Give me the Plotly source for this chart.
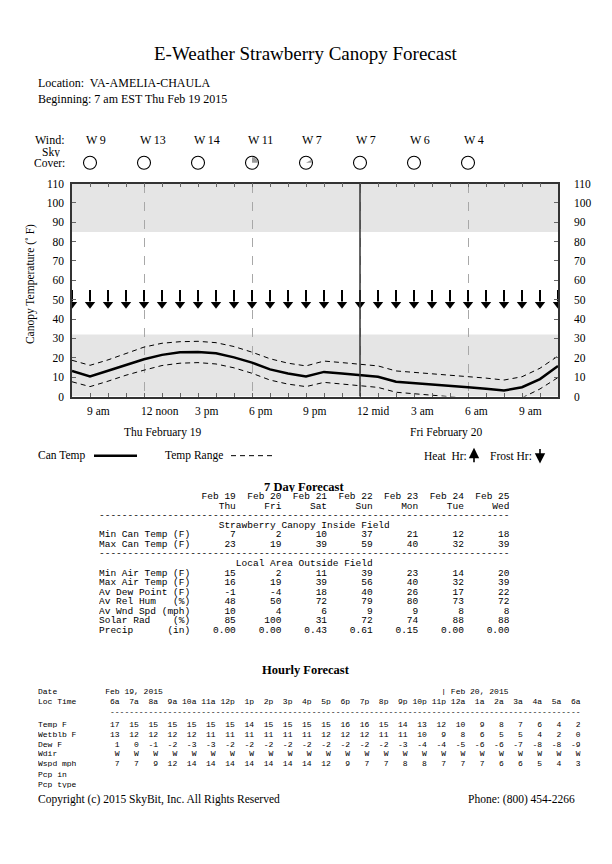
import math
import plotly.graph_objects as go

W, H = 612, 864
SERIF = "Liberation Serif, Times New Roman, serif"
MONO = "Liberation Mono, Courier New, monospace"

# ---------------- data ----------------
hours = [
    "2015-02-19 08:00", "2015-02-19 09:00", "2015-02-19 10:00", "2015-02-19 11:00",
    "2015-02-19 12:00", "2015-02-19 13:00", "2015-02-19 14:00", "2015-02-19 15:00",
    "2015-02-19 16:00", "2015-02-19 17:00", "2015-02-19 18:00", "2015-02-19 19:00",
    "2015-02-19 20:00", "2015-02-19 21:00", "2015-02-19 22:00", "2015-02-19 23:00",
    "2015-02-20 00:00", "2015-02-20 01:00", "2015-02-20 02:00", "2015-02-20 03:00",
    "2015-02-20 04:00", "2015-02-20 05:00", "2015-02-20 06:00", "2015-02-20 07:00",
    "2015-02-20 08:00", "2015-02-20 09:00", "2015-02-20 10:00", "2015-02-20 11:00",
]
can_temp = [13.2, 10.4, 13.3, 16.3, 19.2, 21.5, 22.8, 23.0, 22.3, 20.2, 17.5, 14.0,
            11.9, 10.4, 12.7, 11.9, 11.0, 10.2, 7.6, 7.0, 6.2, 5.5, 4.8, 4.0,
            3.1, 4.8, 9.0, 15.8]
range_hi = [18.7, 16.1, 18.9, 22.2, 25.5, 27.5, 28.3, 28.5, 27.8, 25.8, 22.9, 19.5,
            17.2, 15.8, 18.3, 17.5, 16.6, 15.8, 13.2, 12.5, 11.8, 11.1, 10.4, 9.5,
            8.5, 10.2, 14.6, 20.9]
range_lo = [7.6, 5.1, 7.9, 11.0, 13.6, 16.0, 17.2, 17.5, 16.8, 14.8, 12.0, 8.5,
            6.4, 5.1, 7.3, 6.5, 5.6, 4.7, 2.2, 1.5, 0.6, -0.1, -0.7, -1.5,
            -2.4, -0.7, 3.9, 9.8]
frost_hour = [1, 1, 1, 1, 1, 1, 1, 1, 1, 1, 1, 1, 1, 1,
              1, 1, 1, 1, 1, 1, 1, 1, 1, 1, 1, 1, 1, 1]

frost_band = [0, 32]
heat_band = [85, 110]

tick_times = ["2015-02-19 09:00", "2015-02-19 12:00", "2015-02-19 15:00",
              "2015-02-19 18:00", "2015-02-19 21:00", "2015-02-20 00:00",
              "2015-02-20 03:00", "2015-02-20 06:00", "2015-02-20 09:00"]
tick_labels = ["9 am", "12 noon", "3 pm", "6 pm", "9 pm", "12 mid", "3 am", "6 am", "9 am"]

wind_times = ["2015-02-19 09:00", "2015-02-19 12:00", "2015-02-19 15:00",
              "2015-02-19 18:00", "2015-02-19 21:00", "2015-02-20 00:00",
              "2015-02-20 03:00", "2015-02-20 06:00"]
wind_dir = ["W", "W", "W", "W", "W", "W", "W", "W"]
wind_speed = [9, 13, 14, 11, 7, 7, 6, 4]
sky_cover = [0, 0, 0, 25, 8, 0, 0, 0]

# 7 day forecast
days = ["Feb 19", "Feb 20", "Feb 21", "Feb 22", "Feb 23", "Feb 24", "Feb 25"]
weekdays = ["Thu", "Fri", "Sat", "Sun", "Mon", "Tue", "Wed"]
min_can = [7, 2, 10, 37, 21, 12, 18]
max_can = [23, 19, 39, 59, 40, 32, 39]
min_air = [15, 2, 11, 39, 23, 14, 20]
max_air = [16, 19, 39, 56, 40, 32, 39]
dew_pt = [-1, -4, 18, 40, 26, 17, 22]
rel_hum = [48, 50, 72, 79, 80, 73, 72]
wnd_spd = [10, 4, 6, 9, 9, 8, 8]
solar = [85, 100, 31, 72, 74, 88, 88]
precip = [0.00, 0.00, 0.43, 0.61, 0.15, 0.00, 0.00]

# hourly forecast
loc_time = ["6a", "7a", "8a", "9a", "10a", "11a", "12p", "1p", "2p", "3p", "4p", "5p",
            "6p", "7p", "8p", "9p", "10p", "11p", "12a", "1a", "2a", "3a", "4a", "5a", "6a"]
h_temp = [17, 15, 15, 15, 15, 15, 15, 14, 15, 15, 15, 15, 16, 16, 15, 14, 13, 12, 10, 9, 8, 7, 6, 4, 2]
h_wetblb = [13, 12, 12, 12, 12, 11, 11, 11, 11, 11, 11, 12, 12, 12, 11, 11, 10, 9, 8, 6, 5, 5, 4, 2, 0]
h_dew = [1, 0, -1, -2, -3, -3, -2, -2, -2, -2, -2, -2, -2, -2, -2, -3, -4, -4, -5, -6, -6, -7, -8, -8, -9]
h_wdir = ["W"] * 25
h_wspd = [7, 7, 9, 12, 14, 14, 14, 14, 14, 14, 14, 12, 9, 7, 7, 8, 8, 7, 7, 7, 6, 6, 5, 4, 3]

# ---------------- figure ----------------
def px_x(x):
    return x / W

def px_y(y):
    return 1 - y / H

fig = go.Figure()

dash_style = "5px,4px"
fig.add_trace(go.Scatter(x=hours, y=range_hi, mode="lines",
                         line=dict(color="black", width=1, dash=dash_style), hoverinfo="skip"))
fig.add_trace(go.Scatter(x=hours, y=range_lo, mode="lines",
                         line=dict(color="black", width=1, dash=dash_style), hoverinfo="skip"))
fig.add_trace(go.Scatter(x=hours, y=can_temp, mode="lines",
                         line=dict(color="black", width=2.5), hoverinfo="skip"))

# frost hour arrows
ARROW_TOP, ARROW_NECK, ARROW_HEAD = 55, 49, 47.6
sx, sy, hx, hy = [], [], [], []
for t, f in zip(hours, frost_hour):
    if f:
        sx += [t, t, None]
        sy += [ARROW_TOP, ARROW_NECK, None]
        hx.append(t)
        hy.append(ARROW_HEAD)
fig.add_trace(go.Scatter(x=sx, y=sy, mode="lines", line=dict(color="black", width=2),
                         hoverinfo="skip"))
fig.add_trace(go.Scatter(x=hx, y=hy, mode="markers",
                         marker=dict(symbol="triangle-down", size=9, color="black",
                                     line=dict(width=0)), hoverinfo="skip"))

# invisible trace for right axis
fig.add_trace(go.Scatter(x=hours, y=can_temp, yaxis="y2", mode="lines",
                         line=dict(width=0), opacity=0, hoverinfo="skip"))

# sky cover circles
fig.add_trace(go.Scatter(x=wind_times, y=[0.5] * len(wind_times), xaxis="x2", yaxis="y3",
                         mode="markers",
                         marker=dict(symbol="circle-open", size=13, color="black",
                                     line=dict(width=1.1)), hoverinfo="skip"))
R = 5.6
for t, c in zip(wind_times, sky_cover):
    if c > 0:
        n = 16
        parts = ["M 0 0"]
        for i in range(n + 1):
            a = 2 * math.pi * c / 100 * i / n
            parts.append(f"L {R * math.cos(a):.2f} {R * math.sin(a):.2f}")
        fig.add_shape(type="path", xref="x2", yref="y3", xsizemode="pixel", ysizemode="pixel",
                      xanchor=t, yanchor=0.5, path=" ".join(parts) + " Z",
                      fillcolor="#9a9a9a", line=dict(width=0), layer="below")

# background bands
for lo, hi in (frost_band, heat_band):
    fig.add_shape(type="rect", xref="x domain", yref="y", x0=0, x1=1, y0=lo, y1=hi,
                  fillcolor="#e5e5e5", line=dict(width=0), layer="below")

# midnight line
fig.add_shape(type="line", xref="x", yref="y domain", x0="2015-02-20 00:00", x1="2015-02-20 00:00",
              y0=0, y1=1, line=dict(color="#333333", width=1.5), layer="above")

XD = [72 / W, 558 / W]
YD = [1 - 396 / H, 1 - 180 / H]
tickfont = dict(family=SERIF, size=11.5, color="black")
fig.update_layout(
    width=W, height=H, margin=dict(l=0, r=0, t=0, b=0), autosize=False,
    paper_bgcolor="white", plot_bgcolor="white", showlegend=False,
    xaxis=dict(type="date", domain=XD, anchor="y", range=[hours[0], hours[-1]],
               showline=True, linecolor="#333333", linewidth=1.5, mirror="ticks",
               ticks="inside", ticklen=4, tickcolor="#666666", tickwidth=1,
               tick0="2015-02-19 00:00", dtick=6 * 3600000,
               showgrid=True, gridcolor="#a8a8a8", griddash="dash", gridwidth=1.3,
               showticklabels=False, zeroline=False,
               minor=dict(dtick=3600000, ticks="inside", ticklen=4, tickcolor="#666666",
                          showgrid=False)),
    yaxis=dict(domain=YD, anchor="x", range=[0, 110], dtick=10, tick0=0,
               showline=True, linecolor="#333333", linewidth=1.5,
               ticks="inside", ticklen=4, tickcolor="#666666",
               showgrid=False, zeroline=False, tickfont=tickfont, ticklabelstandoff=4),
    yaxis2=dict(overlaying="y", side="right", anchor="x", range=[0, 110], dtick=10, tick0=0,
                showline=True, linecolor="#333333", linewidth=1.5,
                ticks="inside", ticklen=4, tickcolor="#666666",
                showgrid=False, zeroline=False, tickfont=tickfont, ticklabelstandoff=12),
    xaxis2=dict(type="date", domain=XD, anchor="y3", range=[hours[0], hours[-1]],
                visible=False, showgrid=False),
    yaxis3=dict(domain=[1 - 175 / H, 1 - 143 / H], anchor="x2", range=[0, 1],
                visible=False, showgrid=False),
)


def txt(s, x, y, size=12, family=SERIF, xanchor="left", **kw):
    fig.add_annotation(text=s, x=px_x(x), y=px_y(y), xref="paper", yref="paper",
                       xanchor=xanchor, yanchor="middle", showarrow=False,
                       font=dict(family=family, size=size, color="black"), **kw)


def mono(s):
    return s.replace(" ", "\u00a0")


# header
txt("E-Weather Strawberry Canopy Forecast", 306, 48, size=19, xanchor="center")
txt("Location:\u00a0 VA-AMELIA-CHAULA", 36, 78, size=12)
txt("Beginning: 7 am EST Thu Feb 19 2015", 36, 94, size=12)

# wind / sky rows
txt("Wind:", 67, 136, size=12, xanchor="right")
txt("Sky", 62, 148, size=11.5, xanchor="right", height=10)
txt("Cover:", 67, 159, size=11.5, xanchor="right", height=10)
for t, d, s in zip(wind_times, wind_dir, wind_speed):
    fig.add_annotation(text=f"{d}\u2009{s}", x=t, y=px_y(136), xref="x", yref="paper",
                       xanchor="left", yanchor="middle", xshift=-6, showarrow=False,
                       font=dict(family=SERIF, size=12, color="black"))

# y-axis title
fig.add_annotation(text="Canopy Temperature (\u02da F)", x=px_x(30), y=px_y(282),
                   xref="paper", yref="paper", textangle=-90, showarrow=False,
                   xanchor="center", yanchor="middle",
                   font=dict(family=SERIF, size=11.5, color="black"))

# time labels
for t, lab in zip(tick_times, tick_labels):
    fig.add_annotation(text=lab, x=t, y=px_y(411), xref="x", yref="paper",
                       xanchor="left", yanchor="middle", xshift=-5, showarrow=False,
                       font=dict(family=SERIF, size=11.5, color="black"))
txt("Thu February 19", 163, 432, size=11.5, xanchor="center")
txt("Fri February 20", 446, 432, size=11.5, xanchor="center")

# legend
txt("Can Temp", 36, 456, size=11.5)
fig.add_shape(type="line", xref="paper", yref="paper", x0=px_x(94), x1=px_x(137),
              y0=px_y(456), y1=px_y(456), line=dict(color="black", width=2.5))
txt("Temp Range", 163, 456, size=11.5)
fig.add_shape(type="line", xref="paper", yref="paper", x0=px_x(231), x1=px_x(273),
              y0=px_y(456), y1=px_y(456), line=dict(color="black", width=1, dash=dash_style))
txt("Heat\u00a0 Hr:", 422, 456, size=11.5)
fig.add_annotation(text="", x=px_x(474), y=px_y(448), xref="paper", yref="paper",
                   ax=0, ay=16, showarrow=True, arrowhead=2, arrowsize=1.3, arrowwidth=1.6,
                   arrowcolor="black")
txt("Frost Hr:", 488, 456, size=11.5)
fig.add_annotation(text="", x=px_x(540), y=px_y(464), xref="paper", yref="paper",
                   ax=0, ay=-16, showarrow=True, arrowhead=2, arrowsize=1.3, arrowwidth=1.6,
                   arrowcolor="black")

# ---- 7 day forecast table ----
txt("<b>7 Day Forecast</b>", 304, 487, size=12.5, xanchor="center", height=11)
lines7 = []
lines7.append(" " * 16 + "".join(f"{d:>8}" for d in days))
lines7.append(" " * 16 + "".join(f"{d:>8}" for d in weekdays))
lines7.append("-" * 72)
lines7.append("Strawberry Canopy Inside Field".center(72).rstrip())
lines7.append("Min Can Temp (F)" + "".join(f"{v:>8}" for v in min_can))
lines7.append("Max Can Temp (F)" + "".join(f"{v:>8}" for v in max_can))
lines7.append("-" * 72)
lines7.append("Local Area Outside Field".center(72).rstrip())
lines7.append("Min Air Temp (F)" + "".join(f"{v:>8}" for v in min_air))
lines7.append("Max Air Temp (F)" + "".join(f"{v:>8}" for v in max_air))
lines7.append("Av Dew Point (F)" + "".join(f"{v:>8}" for v in dew_pt))
lines7.append("Av Rel Hum   (%)" + "".join(f"{v:>8}" for v in rel_hum))
lines7.append("Av Wnd Spd (mph)" + "".join(f"{v:>8}" for v in wnd_spd))
lines7.append("Solar Rad    (%)" + "".join(f"{v:>8}" for v in solar))
lines7.append("Precip      (in)" + "".join(f"{v:>8.2f}" for v in precip))
for i, ln in enumerate(lines7):
    txt(mono(ln), 97, 497.5 + 9.7 * i, size=9.5, family=MONO, height=9)

# ---- hourly forecast table ----
txt("<b>Hourly Forecast</b>", 306, 673, size=12.5, xanchor="center")
hl = []
date_line = "Date".ljust(14) + "Feb 19, 2015"
date_line = date_line.ljust(84) + "| Feb 20, 2015"
hl.append((date_line, 695))
hl.append(("Loc Time".ljust(14) + "".join(f"{v:>3} " for v in loc_time), 705))
hl.append((" " * 15 + "-" * 98, 715))
hl.append(("Temp F".ljust(14) + "".join(f"{v:>3} " for v in h_temp), 728))
hl.append(("Wetblb F".ljust(14) + "".join(f"{v:>3} " for v in h_wetblb), 738))
hl.append(("Dew F".ljust(14) + "".join(f"{v:>3} " for v in h_dew), 748))
hl.append(("Wdir".ljust(14) + "".join(f"{v:>3} " for v in h_wdir), 758))
hl.append(("Wspd mph".ljust(14) + "".join(f"{v:>3} " for v in h_wspd), 768))
hl.append(("Pcp in", 779))
hl.append(("Pcp type", 789))
for ln, y in hl:
    txt(mono(ln.rstrip()), 35.5, y, size=8, family=MONO, height=8)

# footer
txt("Copyright (c) 2015 SkyBit, Inc. All Rights Reserved", 36, 805, size=11.5)
txt("Phone: (800) 454-2266", 577, 805, size=11.5, xanchor="right")

fig.write_html(
    "out.html",
    config={"displayModeBar": False},
    post_script="document.body.style.margin='0px';document.body.style.padding='0px';"
                "document.documentElement.style.overflow='hidden';",
)
